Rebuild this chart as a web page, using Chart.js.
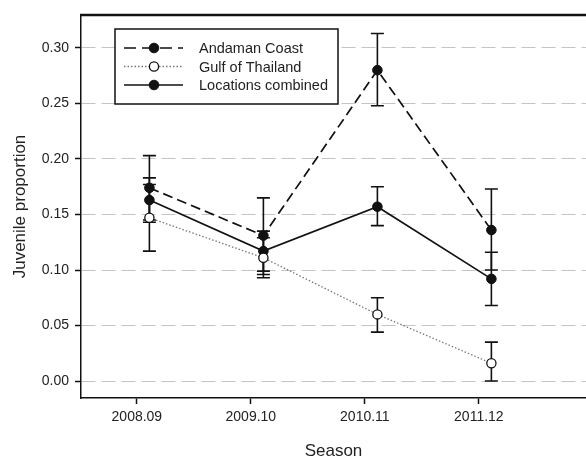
<!DOCTYPE html>
<html>
<head>
<meta charset="utf-8">
<script src="https://cdn.jsdelivr.net/npm/chart.js@4"></script>
<style>
html, body { margin: 0; padding: 0; background: #fff; overflow: hidden; }
#wrap { width: 586px; height: 458px; }
canvas { display: block; }
</style>
</head>
<body>
<div id="wrap"><canvas id="chart" width="586" height="458"></canvas></div>
<script>
// seasons on the x axis
let seasons = ["2008.09", "2009.10", "2010.11", "2011.12"];
let yTicks = [0, 0.05, 0.10, 0.15, 0.20, 0.25, 0.30];

// juvenile proportion per season, with error bar ends
let andaman = [0.174, 0.131, 0.280, 0.136];
let andamanLow = [0.145, 0.096, 0.248, 0.100];
let andamanHigh = [0.203, 0.165, 0.313, 0.173];

let gulf = [0.147, 0.111, 0.060, 0.016];
let gulfLow = [0.117, 0.093, 0.044, 0.000];
let gulfHigh = [0.177, 0.129, 0.075, 0.035];

let combined = [0.163, 0.117, 0.157, 0.092];
let combinedLow = [0.143, 0.099, 0.140, 0.068];
let combinedHigh = [0.183, 0.135, 0.175, 0.116];

const shift = 0.11; // points sit a little right of the tick
const fontName = "'Liberation Sans', Arial, sans-serif";
const ink = '#111';

function pts(vals) {
    return vals.map((v, i) => ({ x: i + shift, y: v }));
}

// error bars drawn with the chart's own scales
const errorBars = {
    id: 'errorBars',
    beforeDatasetsDraw(chart) {
        const ctx = chart.ctx;
        const xs = chart.scales.x, ys = chart.scales.y;
        ctx.save();
        ctx.strokeStyle = ink;
        ctx.lineWidth = 1.6;
        chart.data.datasets.forEach(ds => {
            ds.data.forEach((p, i) => {
                const px = xs.getPixelForValue(p.x);
                const top = ys.getPixelForValue(ds.high[i]);
                const bot = ys.getPixelForValue(ds.low[i]);
                ctx.beginPath();
                ctx.moveTo(px, top); ctx.lineTo(px, bot);
                ctx.moveTo(px - 6.5, top); ctx.lineTo(px + 6.5, top);
                ctx.moveTo(px - 6.5, bot); ctx.lineTo(px + 6.5, bot);
                ctx.stroke();
            });
        });
        ctx.restore();
    }
};

// top frame line and boxed legend
const frameAndLegend = {
    id: 'frameAndLegend',
    afterDraw(chart) {
        const ctx = chart.ctx;
        const a = chart.chartArea;
        ctx.save();
        ctx.strokeStyle = ink;
        ctx.lineWidth = 2.5;
        ctx.beginPath();
        ctx.moveTo(a.left - 1, a.top);
        ctx.lineTo(a.right, a.top);
        ctx.stroke();

        // legend box
        ctx.fillStyle = '#fff';
        ctx.fillRect(115, 29, 223, 75);
        ctx.lineWidth = 1.5;
        ctx.strokeRect(115, 29, 223, 75);

        const rows = [48, 66.5, 85];
        chart.data.datasets.forEach((ds, i) => {
            const y = rows[i];
            ctx.strokeStyle = ds.borderColor;
            ctx.lineWidth = ds.borderWidth;
            ctx.setLineDash(ds.legendDash);
            ctx.beginPath();
            ctx.moveTo(124, y); ctx.lineTo(183, y);
            ctx.stroke();
            ctx.setLineDash([]);
            ctx.beginPath();
            ctx.arc(154, y, ds.pointRadius, 0, Math.PI * 2);
            ctx.fillStyle = ds.pointBackgroundColor;
            ctx.fill();
            ctx.strokeStyle = ink;
            ctx.lineWidth = ds.pointBorderWidth;
            ctx.stroke();
            ctx.fillStyle = '#222';
            ctx.font = '14.5px ' + fontName;
            ctx.textBaseline = 'middle';
            ctx.fillText(ds.label, 199, y + 1);
        });
        ctx.restore();
    }
};

let theChart = new Chart(document.getElementById('chart'), {
    type: 'line',
    data: {
        datasets: [
            {
                label: 'Andaman Coast',
                data: pts(andaman), low: andamanLow, high: andamanHigh,
                borderColor: ink, borderWidth: 1.7, borderDash: [10, 5], legendDash: [12, 6],
                pointRadius: 4.8, pointBackgroundColor: ink, pointBorderColor: ink, pointBorderWidth: 1
            },
            {
                label: 'Gulf of Thailand',
                data: pts(gulf), low: gulfLow, high: gulfHigh,
                borderColor: '#777', borderWidth: 1.3, borderDash: [1.5, 2], legendDash: [1.5, 2],
                pointRadius: 4.6, pointBackgroundColor: '#fff', pointBorderColor: ink, pointBorderWidth: 1.3
            },
            {
                label: 'Locations combined',
                data: pts(combined), low: combinedLow, high: combinedHigh,
                borderColor: ink, borderWidth: 1.7, borderDash: [], legendDash: [],
                pointRadius: 4.8, pointBackgroundColor: ink, pointBorderColor: ink, pointBorderWidth: 1
            }
        ]
    },
    options: {
        responsive: false,
        animation: false,
        layout: { autoPadding: false, padding: { top: 15, left: 0, right: 0, bottom: 0 } },
        plugins: { legend: { display: false }, tooltip: { enabled: false } },
        elements: { line: { tension: 0 } },
        scales: {
            x: {
                type: 'linear',
                min: -0.49,
                max: 3.94,
                afterBuildTicks: s => { s.ticks = seasons.map((_, i) => ({ value: i })); },
                afterFit: s => { s.height = 60; s.paddingLeft = 0; s.paddingRight = 0; },
                ticks: {
                    callback: (v) => seasons[v],
                    font: { family: fontName, size: 14 },
                    color: '#222',
                    padding: 5,
                    maxRotation: 0,
                    autoSkip: false
                },
                grid: { drawOnChartArea: false, tickLength: 6, tickColor: ink, tickWidth: 1.5 },
                border: { color: ink, width: 1.5 },
                title: {
                    display: true,
                    text: 'Season',
                    font: { family: fontName, size: 17, lineHeight: 0.8 },
                    color: '#222',
                    padding: 0
                }
            },
            y: {
                min: -0.0153,
                max: 0.3297,
                afterBuildTicks: s => { s.ticks = yTicks.map(v => ({ value: v })); },
                afterFit: s => { s.width = 81; s.paddingTop = 0; s.paddingBottom = 0; },
                ticks: {
                    callback: v => v.toFixed(2),
                    font: { family: fontName, size: 14 },
                    color: '#222',
                    padding: 6
                },
                grid: { color: '#c4c4c4', lineWidth: 1, tickColor: ink, tickLength: 6, tickWidth: 1.5 },
                border: { color: ink, width: 1.5, dash: [14, 6] },
                title: {
                    display: true,
                    text: 'Juvenile proportion',
                    font: { family: fontName, size: 17 },
                    color: '#222',
                    padding: { top: 10, bottom: 0 }
                }
            }
        }
    },
    plugins: [errorBars, frameAndLegend]
});
</script>
</body>
</html>
